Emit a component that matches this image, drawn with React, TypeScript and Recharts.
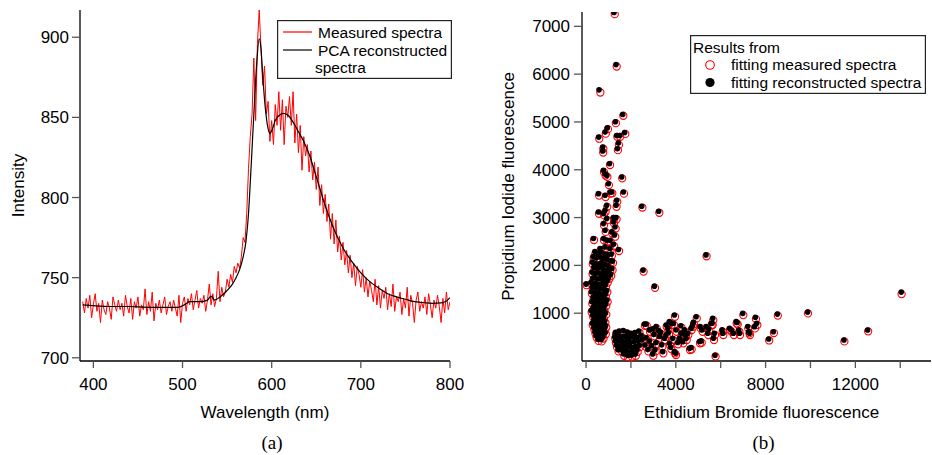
import { LineChart, Line, ScatterChart, Scatter, XAxis, YAxis, Legend, Label } from 'recharts';

// (a) spectrum: measured samples every 2 nm starting at 388 nm
const firstWavelength = 388;
const wavelengthStep = 2;
const measuredIntensity = [
  735, 728, 737, 731, 739, 725, 733, 740, 729, 734,
  722, 736, 730, 727, 735, 731, 724, 738, 733, 729,
  736, 730, 734, 726, 739, 732, 728, 737, 724, 735,
  731, 738, 726, 733, 730, 743, 727, 735, 729, 741,
  723, 734, 730, 736, 728, 733, 738, 727, 732, 735,
  729, 736, 731, 726, 739, 722, 734, 738, 729, 737,
  733, 740, 730, 736, 742, 731, 737, 734, 739, 729,
  736, 746, 733, 740, 732, 737, 754, 735, 744, 738,
  741, 749, 744, 752, 747, 757, 753, 759, 756, 763,
  775, 772, 790, 818, 838, 852, 887, 848, 896, 917,
  893, 870, 882, 852, 860, 835, 848, 833, 858, 845,
  866, 842, 861, 833, 857, 850, 863, 845, 866, 834,
  852, 828, 845, 817, 838, 826, 833, 816, 829, 811,
  822, 805, 819, 795, 808, 790, 802, 785, 796, 774,
  790, 771, 786, 766, 776, 761, 772, 758, 767, 753,
  764, 750, 759, 745, 757, 752, 744, 755, 741, 750,
  738, 748, 742, 735, 749, 733, 745, 731, 742, 737,
  744, 730, 740, 732, 746, 729, 738, 735, 741, 727,
  737, 731, 744, 726, 739, 734, 722, 736, 741, 729,
  735, 731, 738, 727, 740, 733, 725, 736, 731, 739,
  732, 722, 737, 728, 741, 730, 735,
];

const pcaWavelength = [
  388, 400, 420, 440, 460, 480, 495, 502, 508, 520, 528, 532, 536, 542, 550, 556, 560, 564, 568,
  571, 574, 577, 580, 583, 586, 588, 590, 592, 595, 598, 601, 604, 608, 613, 618, 624, 630, 636,
  642, 650, 660, 670, 680, 690, 700, 710, 720, 730, 740, 750, 760, 770, 780, 790, 796, 800,
];
const pcaIntensity = [
  733, 732.5, 732, 732, 731.5, 731.5, 731.5, 733, 735, 735, 736, 738.5, 736, 738, 742, 746, 750, 755, 763,
  772, 790, 820, 852, 882, 899, 893, 876, 861, 846, 840, 843, 848, 851, 852.5, 851.5, 847, 841, 835,
  827, 813, 795, 780, 768.5, 760, 753, 747.5, 743.5, 740, 738, 736.5, 735, 734.5, 734, 734.3, 735.5, 737.5,
];

const wavelengthTicks = [400, 500, 600, 700, 800];
const intensityTicks = [700, 750, 800, 850, 900];

// (b) scatter: [Ethidium Bromide, Propidium Iodide]
const measuredPoints: [number, number][] = [
  [1278, 7255], [1366, 6160], [638, 5616], [1660, 5130], [1330, 4975], [975, 4850], [880, 4755], [590, 4650],
  [1750, 4750], [1395, 4690], [1520, 4690], [1465, 4520], [1420, 4410], [770, 4440], [765, 4360], [1070, 4100],
  [1610, 3820], [800, 3950], [870, 3880], [950, 3850], [1020, 3680], [1170, 3510], [1095, 3500], [1690, 3500],
  [580, 3460], [870, 3430], [1390, 3330], [1360, 3225], [945, 3225], [870, 3120], [800, 3050], [2510, 3210],
  [3265, 3100], [580, 3080], [1245, 2970], [1360, 2965], [950, 2945], [1245, 2880], [1320, 2770], [800, 2840],
  [875, 2700], [1170, 2665], [355, 2530], [800, 2525], [950, 2495], [1095, 2490], [650, 2320], [870, 2350],
  [1095, 2320], [1470, 2300], [5370, 2190], [2565, 1870], [3075, 1530], [25, 1585],
  [1150, 2200], [1200, 2050], [1180, 1900], [1120, 1780], [1250, 2400], [1300, 2600],
  [420, 2250], [560, 2210], [700, 2240], [880, 2200], [1010, 2180], [340, 2150], [480, 2120], [640, 2140],
  [790, 2110], [950, 2090], [1110, 2060], [300, 2030], [430, 2000], [590, 1990], [720, 2020], [860, 1980],
  [1000, 1960], [380, 1920], [530, 1890], [680, 1910], [820, 1870], [960, 1850], [1080, 1880], [290, 1820],
  [450, 1790], [610, 1800], [750, 1770], [900, 1750], [1040, 1720], [330, 1700], [520, 1680], [680, 1690],
  [830, 1660], [970, 1640],
  [250, 1610], [420, 1590], [590, 1570], [740, 1580], [890, 1550], [300, 1510], [480, 1490], [650, 1480],
  [800, 1460], [950, 1440], [260, 1410], [420, 1390], [580, 1380], [730, 1360], [880, 1350], [340, 1300],
  [500, 1290], [660, 1280], [810, 1260], [960, 1240], [280, 1200], [440, 1190], [600, 1180], [750, 1160],
  [900, 1150], [350, 1100], [510, 1090], [670, 1080], [820, 1060], [250, 1020], [420, 1000], [580, 990],
  [740, 980], [900, 970],
  [320, 920], [480, 900], [640, 890], [800, 880], [380, 830], [540, 820], [700, 810], [860, 800],
  [300, 750], [460, 740], [620, 730], [780, 720], [900, 700], [370, 660], [530, 650], [690, 640],
  [840, 630], [420, 570], [580, 560], [740, 550], [880, 560], [470, 490], [630, 480], [780, 470],
  [560, 420], [700, 410],
  [1340, 560], [1500, 590], [1680, 600], [1850, 570], [2020, 540], [2200, 560], [2380, 590], [1300, 470],
  [1450, 490], [1620, 480], [1790, 470], [1960, 450], [2130, 470], [2300, 460], [2480, 500], [1330, 380],
  [1490, 390], [1660, 370], [1830, 360], [2000, 350], [2170, 370], [2340, 380], [2520, 400], [1380, 290],
  [1550, 280], [1720, 270], [1890, 260], [2060, 250], [2230, 270], [2400, 290], [1450, 200], [1620, 190],
  [1790, 170], [1960, 150], [2130, 170], [2300, 190], [1700, 110], [1880, 80], [2050, 90], [2220, 110],
  [2628, 737], [2702, 737], [2998, 633], [2851, 612], [3148, 682], [3296, 473], [3519, 438], [3593, 716],
  [3593, 507], [3667, 647], [3742, 787], [3742, 334], [3817, 752], [3890, 438], [3920, 752], [3964, 925],
  [3964, 160], [4039, 612], [4009, 125], [4187, 438], [4261, 543], [4335, 369], [4410, 612], [4454, 507],
  [4484, 438], [4557, 543], [4633, 230], [4707, 647], [4707, 244], [4780, 716], [4811, 772], [4931, 891],
  [2998, 111], [3443, 160], [2700, 450], [2850, 380], [2950, 280], [3050, 520], [3150, 350], [3250, 600],
  [3400, 300], [2650, 300], [2780, 200], [3100, 200], [3350, 560], [3700, 560], [3800, 250], [4100, 350],
  [4250, 700],
  [5078, 369], [5108, 682], [5153, 382], [5197, 612], [5375, 682], [5448, 543], [5493, 633], [5598, 752],
  [5643, 752], [5670, 856], [5702, 438], [5746, 543], [6088, 612], [6117, 543], [6414, 647], [6488, 612],
  [6592, 543], [6712, 787], [6756, 766], [6830, 612], [6860, 543], [7008, 960], [7230, 682], [7275, 578],
  [7305, 543], [7528, 682], [7572, 877], [7632, 752],
  [8160, 430], [8370, 585], [8545, 950], [9890, 995], [11510, 410], [12570, 620], [14060, 1399], [5770, 95],
];

const reconstructedPoints: [number, number][] = [
  [1247, 7292], [1336, 6200], [579, 5672], [1633, 5157], [1307, 5004], [950, 4878], [846, 4788], [564, 4683],
  [1722, 4781], [1366, 4718], [1500, 4718], [1440, 4558], [1395, 4441], [742, 4474], [742, 4391], [1040, 4127],
  [1589, 3848], [773, 3987], [846, 3917], [920, 3883], [995, 3708], [1143, 3534], [1069, 3534], [1663, 3534],
  [550, 3500], [846, 3466], [1366, 3361], [1336, 3257], [920, 3257], [846, 3152], [773, 3083], [2481, 3236],
  [3237, 3132], [550, 3117], [1218, 3000], [1336, 3000], [920, 2979], [1218, 2909], [1292, 2804], [773, 2874],
  [846, 2735], [1143, 2700], [327, 2561], [773, 2561], [920, 2526], [1069, 2526], [624, 2353], [846, 2387],
  [1069, 2353], [1440, 2332], [5345, 2219], [2539, 1900], [3044, 1566], [0, 1608],
  [1122, 2236], [1174, 2090], [1150, 1935], [1095, 1815], [1222, 2440], [1270, 2636],
  [392, 2288], [534, 2246], [671, 2279], [853, 2236], [981, 2221], [313, 2186], [450, 2160], [613, 2176],
  [762, 2149], [921, 2127], [1083, 2098], [272, 2069], [404, 2037], [561, 2030], [693, 2057], [831, 2019],
  [973, 1996], [352, 1960], [503, 1927], [651, 1950], [793, 1906], [932, 1889], [1053, 1917], [262, 1858],
  [423, 1829], [581, 1837], [723, 1810], [871, 1787], [1013, 1759], [302, 1737], [493, 1720], [651, 1726],
  [803, 1699], [941, 1677],
  [222, 1648], [393, 1627], [562, 1609], [713, 1616], [861, 1589], [273, 1546], [452, 1529], [623, 1516],
  [771, 1499], [923, 1476], [232, 1449], [393, 1426], [551, 1419], [703, 1396], [852, 1389], [313, 1336],
  [471, 1329], [633, 1316], [782, 1299], [933, 1276], [251, 1239], [413, 1226], [572, 1219], [723, 1196],
  [871, 1189], [323, 1136], [482, 1129], [643, 1116], [791, 1099], [223, 1056], [392, 1039], [553, 1026],
  [711, 1019], [873, 1006],
  [292, 959], [453, 936], [611, 929], [773, 916], [352, 869], [513, 856], [671, 849], [833, 836],
  [272, 789], [433, 776], [591, 769], [753, 756], [872, 739], [343, 696], [501, 689], [663, 676],
  [811, 669], [393, 606], [552, 599], [713, 586], [851, 596], [442, 529], [603, 516], [751, 509],
  [532, 456], [672, 449],
  [1312, 598], [1473, 626], [1651, 639], [1823, 606], [1991, 579], [2173, 596], [2351, 629], [1273, 506],
  [1421, 529], [1593, 516], [1761, 509], [1933, 486], [2101, 509], [2273, 496], [2451, 539], [1303, 416],
  [1461, 429], [1633, 406], [1801, 399], [1973, 386], [2141, 409], [2313, 416], [2491, 439], [1352, 329],
  [1523, 316], [1691, 309], [1863, 296], [2031, 289], [2203, 306], [2371, 329], [1423, 236], [1591, 229],
  [1763, 206], [1931, 189], [2103, 206], [2271, 229], [1673, 146], [1851, 119], [2023, 126], [2191, 149],
  [2600, 775], [2675, 772], [2970, 671], [2823, 650], [3121, 718], [3268, 511], [3491, 476], [3566, 752],
  [3565, 545], [3640, 683], [3714, 825], [3715, 370], [3789, 790], [3863, 474], [3892, 790], [3937, 961],
  [3936, 198], [4012, 648], [3981, 163], [4160, 474], [4233, 581], [4308, 405], [4382, 650], [4427, 543],
  [4456, 476], [4530, 579], [4605, 268], [4680, 683], [4679, 282], [4753, 752], [4783, 810], [4904, 927],
  [2970, 149], [3416, 196], [2672, 488], [2823, 416], [2922, 318], [3023, 556], [3122, 388], [3223, 636],
  [3372, 338], [2623, 336], [2752, 238], [3073, 236], [3322, 598], [3673, 596], [3772, 288], [4073, 386],
  [4222, 738],
  [5050, 407], [5081, 718], [5125, 420], [5170, 648], [5347, 720], [5421, 579], [5465, 671], [5571, 788],
  [5615, 790], [5643, 892], [5674, 476], [5719, 579], [6060, 650], [6090, 579], [6386, 685], [6461, 648],
  [6564, 581], [6685, 823], [6728, 804], [6803, 648], [6832, 581], [6981, 996], [7202, 720], [7248, 614],
  [7277, 581], [7501, 718], [7544, 915], [7605, 788],
  [8137, 459], [8345, 612], [8523, 981], [9874, 1023], [11492, 438], [12546, 647], [14045, 1441], [5746, 119],
];

const ebTicks = [0, 2000, 4000, 6000, 8000, 10000, 12000, 14000];
const ebTickLabels = ['0', '', '4000', '', '8000', '', '12000', ''];
const piTicks = [1000, 2000, 3000, 4000, 5000, 6000, 7000];

const sans = '"Liberation Sans", Arial, Helvetica, sans-serif';
const serif = '"Liberation Serif", "Times New Roman", serif';

const spectrumRows = measuredIntensity.map((v, i) => ({ w: firstWavelength + wavelengthStep * i, v }));
const pcaRows = pcaWavelength.map((w, i) => ({ w, v: pcaIntensity[i] }));
const measuredRows = measuredPoints.map(([x, y]) => ({ x, y }));
const reconRows = reconstructedPoints.map(([x, y]) => ({ x, y }));

const axisLine = { stroke: '#000', strokeWidth: 1.3 };
const tickLine = { stroke: '#555', strokeWidth: 1.3 };
const tickStyle = { fill: '#000', fontSize: 17 };

function SpectraLegend() {
  return (
    <svg width={175} height={59} style={{ display: 'block', fontFamily: sans, fontSize: 15.5 }}>
      <rect x={0.6} y={0.6} width={173.8} height={57.8} fill="#fff" stroke="#222" strokeWidth={1.2} />
      <line x1={6} x2={35} y1={12} y2={12} stroke="#ff0000" strokeWidth={1.2} />
      <text x={41} y={17.5} fill="#000">Measured spectra</text>
      <line x1={6} x2={35} y1={30} y2={30} stroke="#000" strokeWidth={1.2} />
      <text x={41} y={35.5} fill="#000">PCA reconstructed</text>
      <text x={38} y={52.5} fill="#000">spectra</text>
    </svg>
  );
}

function FitLegend() {
  return (
    <svg width={236} height={59} style={{ display: 'block', fontFamily: sans, fontSize: 15.5 }}>
      <rect x={0.6} y={0.6} width={234.8} height={57.8} fill="#fff" stroke="#222" strokeWidth={1.2} />
      <text x={3} y={17.5} fill="#000">Results from</text>
      <circle cx={20} cy={30} r={4.3} fill="none" stroke="#ff0000" strokeWidth={1.1} />
      <text x={41} y={34.5} fill="#000">fitting measured spectra</text>
      <circle cx={20} cy={47.5} r={4.6} fill="#000" />
      <text x={41} y={52.5} fill="#000">fitting reconstructed spectra</text>
    </svg>
  );
}

const RedRing = (props: any) => (
  <circle cx={props.cx} cy={props.cy} r={3.6} fill="none" stroke="#ff0000" strokeWidth={1.1} />
);
const BlackDot = (props: any) => <circle cx={props.cx} cy={props.cy} r={2.8} fill="#000" />;

export default function App() {
  return (
    <div style={{ position: 'absolute', left: 0, top: 0, width: 932, height: 455, background: '#fff', fontFamily: sans }}>
      <div style={{ position: 'absolute', left: 0, top: 0 }}>
        <LineChart width={470} height={455} margin={{ top: 10, right: 20, left: 20, bottom: 64 }}>
          <XAxis
            type="number"
            dataKey="w"
            domain={[385, 800]}
            ticks={wavelengthTicks}
            allowDataOverflow
            height={30}
            tickSize={7}
            tickMargin={10}
            axisLine={axisLine}
            tickLine={tickLine}
            tick={tickStyle}
          >
            <Label value="Wavelength (nm)" position="bottom" offset={15} style={{ fontSize: 17, fill: '#000' }} />
            <Label value="(a)" position="bottom" offset={45} dx={7} style={{ fontSize: 19, fill: '#000', fontFamily: serif }} />
          </XAxis>
          <YAxis
            type="number"
            domain={[698, 917]}
            ticks={intensityTicks}
            allowDataOverflow
            width={60}
            tickSize={8}
            tickMargin={3}
            axisLine={axisLine}
            tickLine={tickLine}
            tick={tickStyle}
          >
            <Label value="Intensity" angle={-90} position="insideLeft" offset={-2} style={{ fontSize: 17, fill: '#000', textAnchor: 'middle' }} />
          </YAxis>
          <Line data={spectrumRows} dataKey="v" type="linear" stroke="#ff0000" strokeWidth={1} dot={false} isAnimationActive={false} />
          <Line data={pcaRows} dataKey="v" type="monotone" stroke="#000" strokeWidth={1.2} dot={false} isAnimationActive={false} />
          <Legend
            layout="horizontal"
            verticalAlign="middle"
            content={SpectraLegend}
            wrapperStyle={{ left: 277, top: 20, width: 175, height: 59 }}
          />
        </LineChart>
      </div>
      <div style={{ position: 'absolute', left: 470, top: 0 }}>
        <ScatterChart width={462} height={455} margin={{ top: 12, right: 1, left: 42, bottom: 64 }}>
          <XAxis
            type="number"
            dataKey="x"
            domain={[-180, 15370]}
            ticks={ebTicks}
            tickFormatter={(_v: number, i: number) => ebTickLabels[i]}
            allowDataOverflow
            height={30}
            tickSize={7}
            tickMargin={10}
            axisLine={axisLine}
            tickLine={tickLine}
            tick={tickStyle}
          >
            <Label value="Ethidium Bromide fluorescence" position="bottom" offset={15} dx={5} style={{ fontSize: 17, fill: '#000' }} />
            <Label value="(b)" position="bottom" offset={45} dx={7} style={{ fontSize: 19, fill: '#000', fontFamily: serif }} />
          </XAxis>
          <YAxis
            type="number"
            dataKey="y"
            domain={[0, 7300]}
            ticks={piTicks}
            allowDataOverflow
            width={70}
            tickSize={8}
            tickMargin={4}
            axisLine={axisLine}
            tickLine={tickLine}
            tick={tickStyle}
          >
            <Label value="Propidium Iodide fluorescence" angle={-90} position="insideLeft" offset={-4} style={{ fontSize: 17, fill: '#000', textAnchor: 'middle' }} />
          </YAxis>
          <Scatter data={measuredRows} shape={RedRing} isAnimationActive={false} />
          <Scatter data={reconRows} shape={BlackDot} isAnimationActive={false} />
          <Legend
            layout="horizontal"
            verticalAlign="middle"
            content={FitLegend}
            wrapperStyle={{ left: 220, top: 35, width: 236, height: 59 }}
          />
        </ScatterChart>
      </div>
    </div>
  );
}
